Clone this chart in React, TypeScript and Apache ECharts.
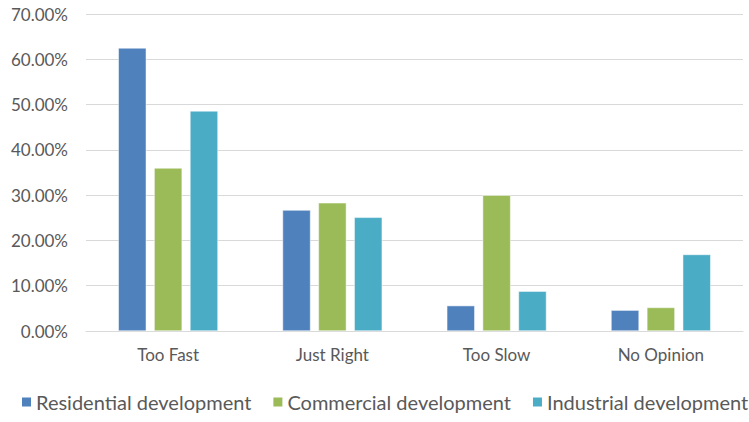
import React, { useEffect, useRef } from "react";
import * as echarts from "echarts";

const categories = ["Too Fast", "Just Right", "Too Slow", "No Opinion"];
const seriesNames = ["Residential development", "Commercial development", "Industrial development"];
const residential = [62.5, 26.7, 5.6, 4.6];
const commercial = [36.0, 28.3, 30.0, 5.2];
const industrial = [48.6, 25.1, 8.8, 16.9];
const colors = ["#4F81BD", "#9BBB59", "#4BACC6"];

export default function App() {
  const ref = useRef<HTMLDivElement>(null);
  useEffect(() => {
    if (!ref.current) return;
    const chart = echarts.init(ref.current, null, { renderer: "svg" });
    const font = "Lato, 'Open Sans', sans-serif";
    const values = [residential, commercial, industrial];
    chart.setOption({
      animation: false,
      textStyle: { fontFamily: font },
      grid: { left: 86, right: 6, top: 14, bottom: 91, containLabel: false },
      legend: {
        top: 392,
        left: 20,
        padding: 0,
        itemWidth: 11,
        itemHeight: 11,
        itemGap: 20,
        icon: "rect",
        textStyle: { fontSize: 20, color: "#595959", fontFamily: font, padding: [0, 0, 0, -1] },
        data: seriesNames,
      },
      xAxis: {
        type: "category",
        data: categories,
        axisLine: { lineStyle: { color: "#D9D9D9" } },
        axisTick: { show: false },
        axisLabel: { color: "#595959", fontSize: 17, margin: 15, fontFamily: font },
      },
      yAxis: {
        type: "value",
        min: 0,
        max: 70,
        interval: 10,
        axisLine: { show: false },
        axisTick: { show: false },
        splitLine: { lineStyle: { color: "#D9D9D9" } },
        axisLabel: {
          color: "#595959",
          fontSize: 17,
          margin: 18,
          fontFamily: font,
          formatter: (v: number) => v.toFixed(2) + "%",
        },
      },
      series: seriesNames.map((name, i) => ({
        name,
        type: "bar",
        data: values[i],
        barWidth: 28,
        barGap: "28%",
        itemStyle: { color: colors[i], borderColor: "#ffffff", borderWidth: 0.5 },
      })),
    });
    return () => chart.dispose();
  }, []);
  return (
    <div
      ref={ref}
      style={{ position: "fixed", left: 0, top: 0, width: 749, height: 422, background: "#fff" }}
    />
  );
}
